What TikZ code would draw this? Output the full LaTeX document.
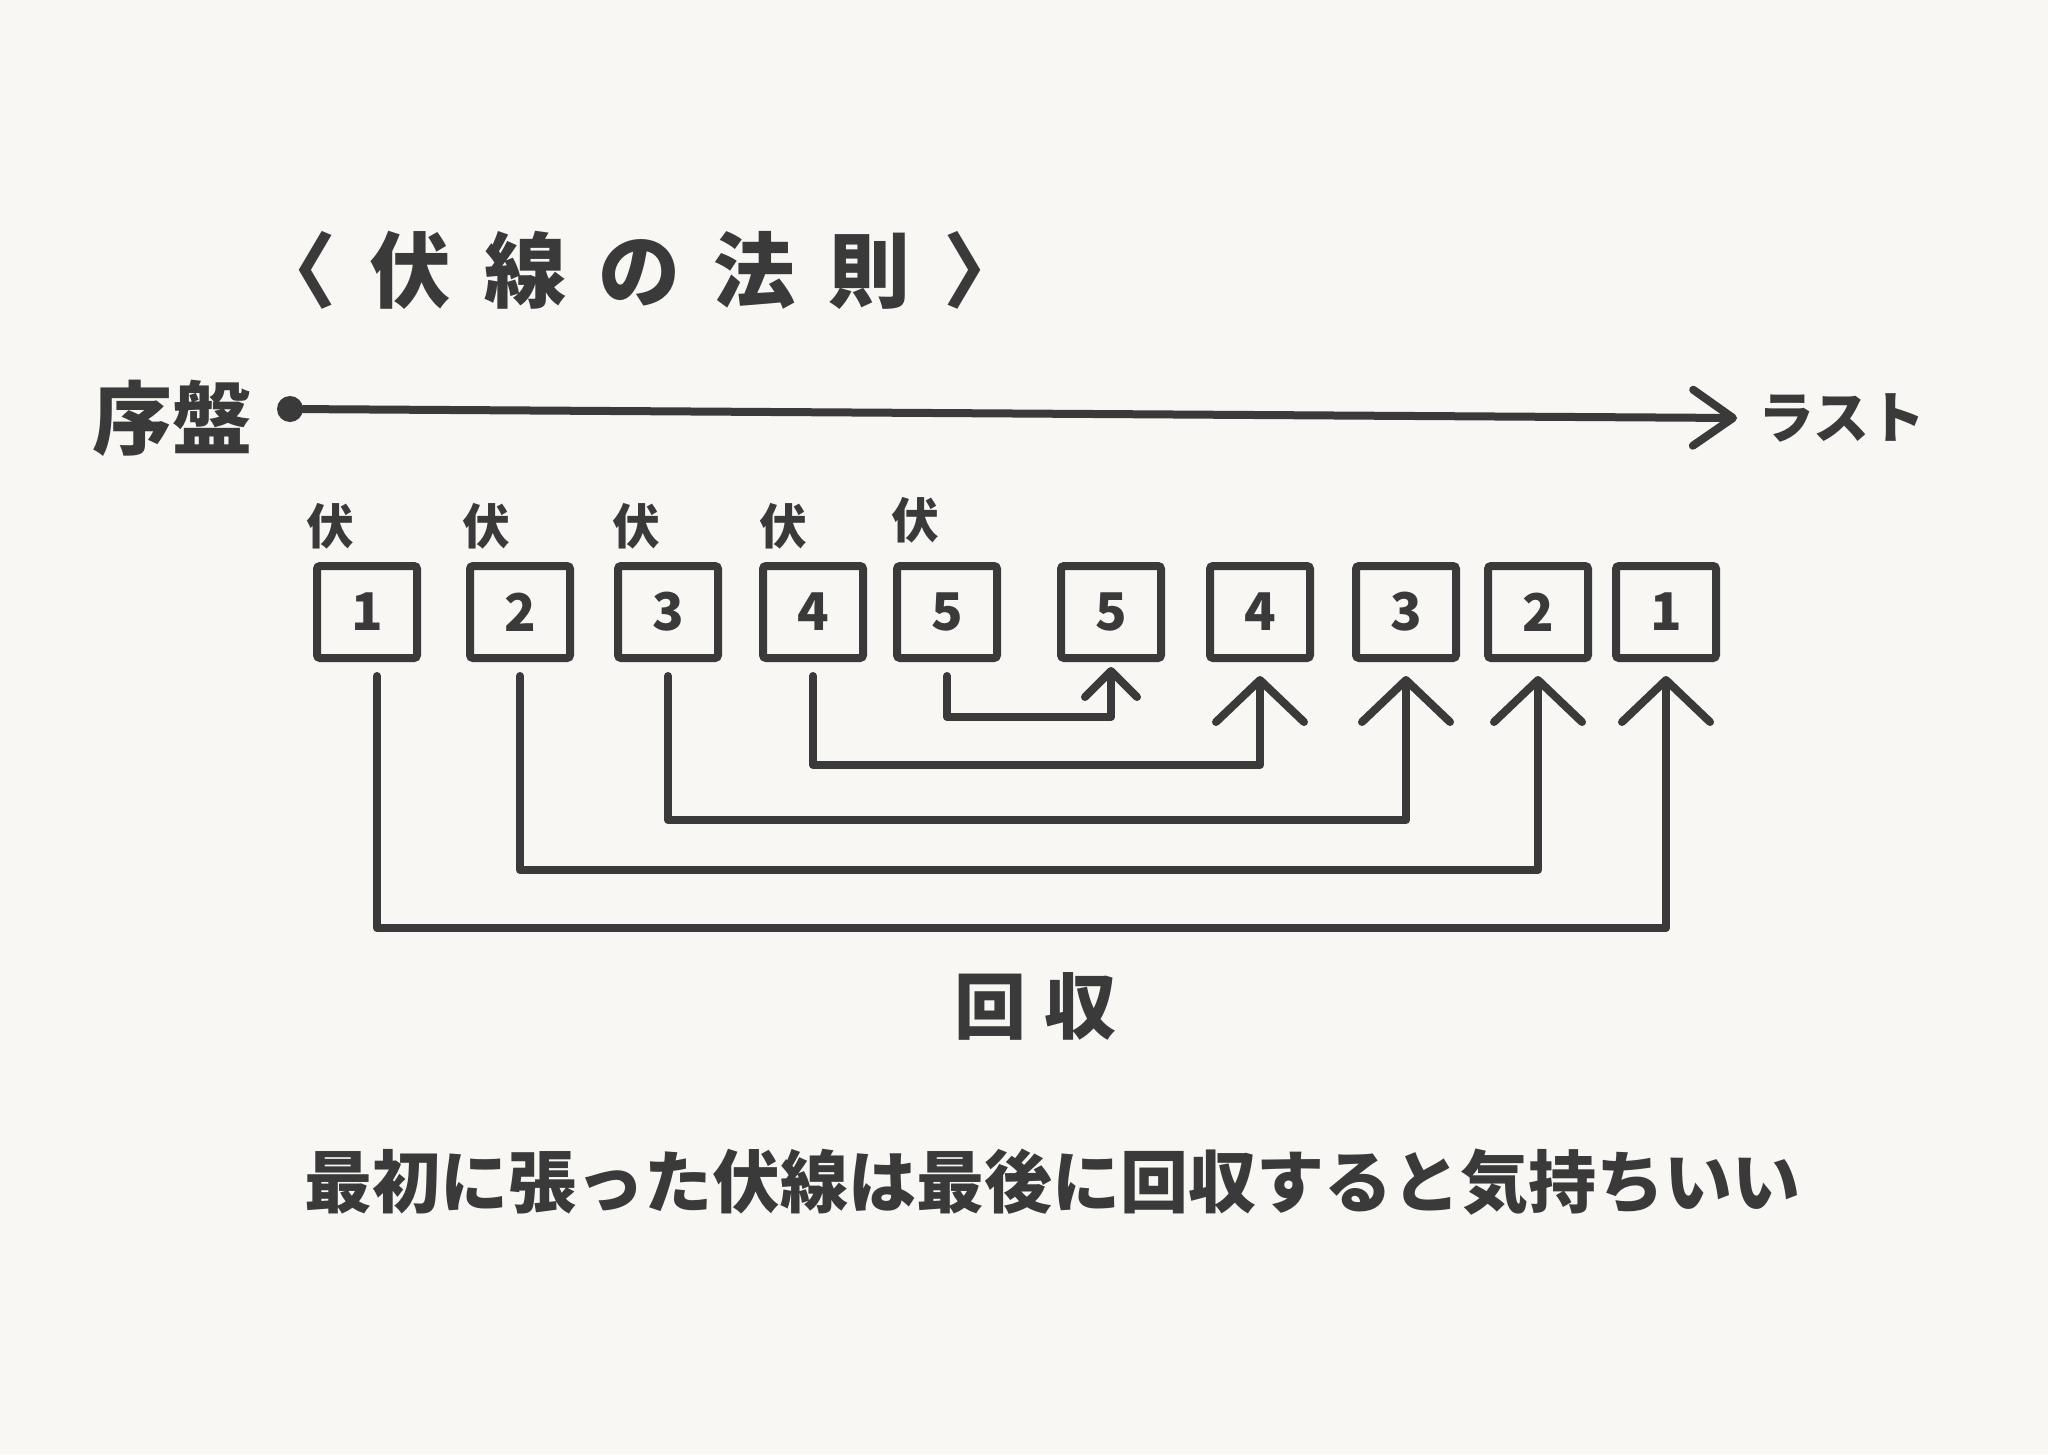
\documentclass[tikz,border=0pt]{standalone}
\usepackage{fontspec}
\setmainfont{Noto Sans CJK JP}
\newfontfamily\jpwide[LetterSpace=40]{Noto Sans CJK JP}
\newfontfamily\jpmid[LetterSpace=25]{Noto Sans CJK JP}
\usepackage{tikz}
\usetikzlibrary{arrows.meta,positioning,calc}
\definecolor{paper}{HTML}{F8F7F3}
\definecolor{ink}{HTML}{3A3A3A}

\begin{document}
\begin{tikzpicture}[
    x=1pt, y=-1pt,
    bx/.style={draw=ink, line width=8pt, rounded corners=3pt, minimum width=100pt,
               minimum height=92pt, inner sep=0pt, font=\fontsize{52}{52}\selectfont\bfseries, text=ink},
    fu/.style={font=\fontsize{48}{48}\selectfont\bfseries, text=ink, inner sep=0pt},
    txt/.style={font=\fontsize{#1}{#1}\selectfont\bfseries, text=ink, inner sep=0pt},
    arr/.style={-{Straight Barb[round, length=40pt, width=56pt]}, line width=8pt, draw=ink,
                line cap=round, line join=round},
    link/.style={-{Straight Barb[round, length=42pt, width=88pt]}, line width=8pt, draw=ink,
                 line cap=round, line join=round},
    slink/.style={link, -{Straight Barb[round, length=26pt, width=52pt]}},
  ]
  \fill[paper] (0,0) rectangle (2048,1454);
  \useasboundingbox (0,0) rectangle (2048,1454);

  % title
  \node[text=ink, inner sep=0pt, font=\jpwide\fontsize{82}{82}\selectfont\bfseries] (title) at (640,270) {〈伏線の法則〉};

  % time line
  \node[txt=80] (jo) at (172,418) {序盤};
  \node[circle, fill=ink, minimum size=26pt, inner sep=0pt] (start) at (290,409) {};
  \coordinate (tip) at (1737,418);
  \node[txt=56] (last) at (1842,418) {ラスト};
  \draw[arr] (start) -- (tip);

  % foreshadowing boxes (laid) and payoff boxes (collected)
  \node[bx] (b1) at (367,612) {1};
  \node[bx] (b2) at (520,612) {2};
  \node[bx] (b3) at (668,612) {3};
  \node[bx] (b4) at (813,612) {4};
  \node[bx] (b5) at (947,612) {5};
  \node[bx] (c5) at (1111,612) {5};
  \node[bx] (c4) at (1260,612) {4};
  \node[bx] (c3) at (1406,612) {3};
  \node[bx] (c2) at (1538,612) {2};
  \node[bx] (c1) at (1666,612) {1};

  % 伏 marks over the first five
  \node[fu] (f1) at ([shift={(17,-36)}]b1.north west) {伏};
  \node[fu] (f2) at ([shift={(20,-36)}]b2.north west) {伏};
  \node[fu] (f3) at ([shift={(22,-36)}]b3.north west) {伏};
  \node[fu] (f4) at ([shift={(24,-36)}]b4.north west) {伏};
  \node[fu] (f5) at ([shift={(22,-42)}]b5.north west) {伏};

  % nested payoffs
  \draw[slink] ([yshift=-14pt]b5.south) -- ++(0,41) -| ([yshift=-5pt]c5.south);
  \draw[link] ([yshift=-14pt]b4.south) -- ++(0,89) -| ([yshift=-14pt]c4.south);
  \draw[link] ([yshift=-14pt]b3.south) -- ++(0,144) -| ([yshift=-14pt]c3.south);
  \draw[link] ([yshift=-14pt]b2.south) -- ++(0,194) -| ([yshift=-14pt]c2.south);
  \draw[link] ([xshift=10pt,yshift=-14pt]b1.south) -- ++(0,252) -| ([yshift=-14pt]c1.south);

  \node[text=ink, inner sep=0pt, font=\jpmid\fontsize{72}{72}\selectfont\bfseries] (kaishu) at (1035,1006) {回収};

  \node[txt=68] (rule) at (1052,1182) {最初に張った伏線は最後に回収すると気持ちいい};
\end{tikzpicture}
\end{document}
